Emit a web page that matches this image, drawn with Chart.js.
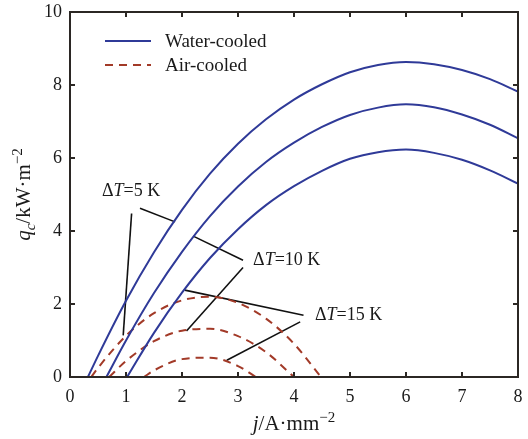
<!DOCTYPE html>
<html lang="en">
  <head>
    <meta charset="UTF-8" />
    <title>q_c vs j</title>
    <style>
      html, body { margin: 0; padding: 0; background: #fff; }
      #wrap { width: 528px; height: 439px; }
    </style>
  </head>
  <body>
    <div id="wrap"><canvas id="chart" width="528" height="439"></canvas></div>
    <script src="https://cdn.jsdelivr.net/npm/chart.js"></script>
    <script>
      // water-cooled curves (ΔT = 5, 10, 15 K)
      const waterJ5 = [0.32, 0.5, 1, 1.5, 2, 2.5, 3, 3.5, 4, 4.5, 5, 5.5, 6, 6.5, 7, 7.5, 8];
      const waterQ5 = [0, 0.58, 2.09, 3.42, 4.58, 5.57, 6.39, 7.06, 7.6, 8.02, 8.35, 8.55, 8.63, 8.57, 8.41, 8.16, 7.82];
      const waterJ10 = [0.65, 1, 1.5, 2, 2.5, 3, 3.5, 4, 4.5, 5, 5.5, 6, 6.5, 7, 7.5, 8];
      const waterQ10 = [0, 1.0, 2.3, 3.43, 4.41, 5.22, 5.89, 6.42, 6.85, 7.18, 7.38, 7.47, 7.39, 7.19, 6.91, 6.54];
      const waterJ15 = [1.02, 1.5, 2, 2.5, 3, 3.5, 4, 4.5, 5, 5.5, 6, 6.5, 7, 7.5, 8];
      const waterQ15 = [0, 1.21, 2.31, 3.26, 4.05, 4.71, 5.23, 5.65, 5.98, 6.16, 6.23, 6.14, 5.95, 5.66, 5.3];

      // air-cooled curves
      const airJ5 = [0.38, 0.5, 1, 1.5, 2, 2.5, 3, 3.5, 4, 4.48];
      const airQ5 = [0, 0.25, 1.13, 1.75, 2.1, 2.2, 2.03, 1.6, 0.91, 0];
      const airJ10 = [0.7, 1, 1.5, 2, 2.5, 3, 3.5, 4.0];
      const airQ10 = [0, 0.44, 0.98, 1.27, 1.32, 1.12, 0.68, 0];
      const airJ15 = [1.32, 1.5, 2, 2.5, 3, 3.32];
      const airQ15 = [0, 0.18, 0.49, 0.53, 0.3, 0];

      // leader lines for the ΔT labels (data units)
      const leaders = [
        [[1.1, 4.48], [0.95, 1.14]],
        [[1.25, 4.62], [1.875, 4.25]],
        [[2.2, 3.86], [3.09, 3.2]],
        [[3.09, 3.0], [2.08, 1.26]],
        [[2.05, 2.38], [4.17, 1.69]],
        [[4.11, 1.51], [2.8, 0.46]],
      ];
      const labelText = ["5 K", "10 K", "15 K"];
      const labelPos = [[0.57, 5.09], [3.27, 3.2], [4.375, 1.69]];

      const xTicks = [0, 1, 2, 3, 4, 5, 6, 7, 8];
      const yTicks = [0, 2, 4, 6, 8, 10];

      const BLUE = "#2f3a98";
      const RED = "#a23a28";
      const FONT = "Liberation Serif";

      const pts = (xs, ys) => xs.map((x, i) => ({ x: x, y: ys[i] }));

      function curve(xs, ys, dashed) {
        return {
          data: pts(xs, ys),
          showLine: true,
          borderColor: dashed ? RED : BLUE,
          borderWidth: 2,
          borderDash: dashed ? [8, 6] : [],
          pointRadius: 0,
          cubicInterpolationMode: "monotone",
        };
      }

      const datasets = [
        curve(waterJ5, waterQ5, false),
        curve(waterJ10, waterQ10, false),
        curve(waterJ15, waterQ15, false),
        curve(airJ5, airQ5, true),
        curve(airJ10, airQ10, true),
        curve(airJ15, airQ15, true),
      ];
      leaders.forEach((l) => {
        datasets.push({
          data: l.map((p) => ({ x: p[0], y: p[1] })),
          showLine: true,
          borderColor: "#111",
          borderWidth: 1.6,
          pointRadius: 0,
          tension: 0,
        });
      });

      // draws text made of pieces (italic / sub / sup), centred on x
      function richText(ctx, parts, x, y, size) {
        const fontOf = (p) =>
          (p.italic ? "italic " : "") + (p.sub || p.sup ? Math.round(size * 0.7) : size) + "px " + FONT;
        let w = 0;
        parts.forEach((p) => { ctx.font = fontOf(p); w += ctx.measureText(p.t).width; });
        let cx = x - w / 2;
        parts.forEach((p) => {
          ctx.font = fontOf(p);
          let dy = p.sub ? size * 0.25 : p.sup ? -size * 0.4 : 0;
          ctx.fillText(p.t, cx, y + dy);
          cx += ctx.measureText(p.t).width;
        });
      }

      const decor = {
        id: "decor",
        afterDraw(chart) {
          const { ctx, chartArea: a, scales } = chart;
          const sx = scales.x, sy = scales.y;
          ctx.save();
          // frame + inward ticks
          ctx.strokeStyle = "#2b2724";
          ctx.lineWidth = 2;
          ctx.strokeRect(a.left, a.top, a.right - a.left, a.bottom - a.top);
          ctx.beginPath();
          xTicks.forEach((v) => {
            const px = sx.getPixelForValue(v);
            ctx.moveTo(px, a.bottom); ctx.lineTo(px, a.bottom - 5);
            ctx.moveTo(px, a.top); ctx.lineTo(px, a.top + 5);
          });
          yTicks.forEach((v) => {
            const py = sy.getPixelForValue(v);
            ctx.moveTo(a.left, py); ctx.lineTo(a.left + 5, py);
            ctx.moveTo(a.right, py); ctx.lineTo(a.right - 5, py);
          });
          ctx.stroke();

          // legend
          ctx.fillStyle = "#1a1a1a";
          ctx.textBaseline = "middle";
          ctx.font = "19px " + FONT;
          const lx0 = a.left + 35, lx1 = a.left + 81;
          [["Water-cooled", BLUE, []], ["Air-cooled", RED, [8, 6]]].forEach((e, i) => {
            const ly = a.top + 29 + i * 24;
            ctx.strokeStyle = e[1];
            ctx.lineWidth = 2;
            ctx.setLineDash(e[2]);
            ctx.beginPath(); ctx.moveTo(lx0, ly); ctx.lineTo(lx1, ly); ctx.stroke();
            ctx.setLineDash([]);
            ctx.textAlign = "left";
            ctx.fillText(e[0], a.left + 95, ly + 1);
          });

          // ΔT labels
          labelPos.forEach((p, i) => {
            let cx = sx.getPixelForValue(p[0]);
            const cy = sy.getPixelForValue(p[1]);
            [["Δ", ""], ["T", "italic "], ["=" + labelText[i], ""]].forEach((s) => {
              ctx.font = s[1] + "18px " + FONT;
              ctx.fillText(s[0], cx, cy);
              cx += ctx.measureText(s[0]).width;
            });
          });

          // axis titles
          ctx.textAlign = "left";
          ctx.textBaseline = "alphabetic";
          richText(ctx, [{ t: "j", italic: true }, { t: "/A·mm" }, { t: "−2", sup: true }],
            (a.left + a.right) / 2, 430, 21);
          ctx.translate(30, (a.top + a.bottom) / 2);
          ctx.rotate(-Math.PI / 2);
          richText(ctx, [{ t: "q", italic: true }, { t: "c", italic: true, sub: true }, { t: "/kW·m" }, { t: "−2", sup: true }],
            0, 0, 21);
          ctx.restore();
        },
      };

      new Chart(document.getElementById("chart"), {
        type: "scatter",
        data: { datasets: datasets },
        options: {
          responsive: false,
          animation: false,
          layout: { padding: { top: 12, right: 10, left: 0, bottom: 0 } },
          plugins: { legend: { display: false }, tooltip: { enabled: false } },
          scales: {
            x: {
              type: "linear", min: 0, max: 8,
              afterBuildTicks: (s) => { s.ticks = xTicks.map((v) => ({ value: v })); },
              ticks: { font: { family: FONT, size: 18 }, color: "#1a1a1a", padding: 1 },
              grid: { display: false },
              border: { display: false },
              afterFit: (s) => { s.height = 62; },
            },
            y: {
              type: "linear", min: 0, max: 10,
              afterBuildTicks: (s) => { s.ticks = yTicks.map((v) => ({ value: v })); },
              ticks: { font: { family: FONT, size: 18 }, color: "#1a1a1a", padding: 0 },
              grid: { display: false },
              border: { display: false },
              afterFit: (s) => { s.width = 70; },
            },
          },
        },
        plugins: [decor],
      });
    </script>
  </body>
</html>
